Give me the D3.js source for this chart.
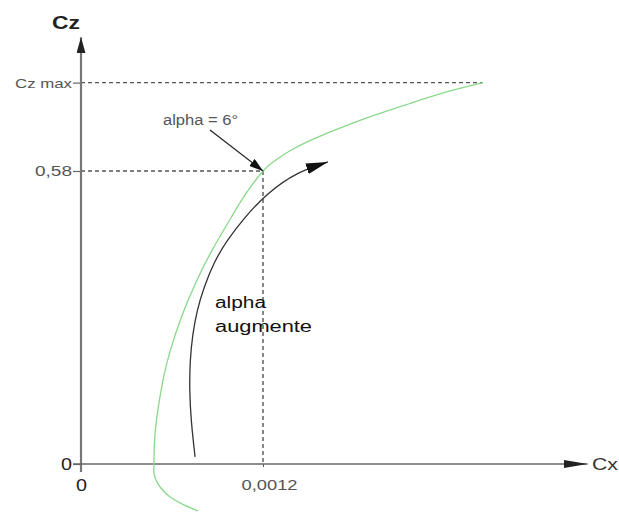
<!DOCTYPE html>
<html>
<head>
<meta charset="utf-8">
<script src="https://cdn.jsdelivr.net/npm/d3@7/dist/d3.min.js"></script>
<style>
  html, body { margin: 0; padding: 0; background: #fff; }
  svg { display: block; font-family: "Liberation Sans", Arial, sans-serif; }
</style>
</head>
<body>
<svg id="chart" width="619" height="513"></svg>
<script>
// Polar curve Cz = f(Cx)
const polarCx = [0.000771, 0.000672, 0.000590, 0.000528, 0.000492, 0.000479, 0.000481, 0.000490, 0.000540,
                 0.000588, 0.000661, 0.000755, 0.000864, 0.000992, 0.001087, 0.0012,
                 0.001276, 0.001390, 0.001546, 0.001706, 0.001931, 0.002141, 0.002393, 0.00265];
const polarCz = [-0.093, -0.080, -0.066, -0.048, -0.030, -0.014, 0, 0.066, 0.165,
                 0.224, 0.290, 0.358, 0.423, 0.489, 0.535, 0.58,
                 0.600, 0.622, 0.645, 0.665, 0.690, 0.711, 0.735, 0.755];

// Arrow showing increasing angle of attack
const arrowCx = [0.000752, 0.000725, 0.000715, 0.000719, 0.000735, 0.000765, 0.000811,
                 0.000877, 0.000963, 0.001081, 0.001226, 0.001424, 0.001628];
const arrowCz = [0.014, 0.087, 0.147, 0.206, 0.255, 0.305, 0.350,
                 0.400, 0.443, 0.489, 0.536, 0.578, 0.598];

// Reference values and tick labels
const czTicks = [0, 0.58, 0.755];
const czTickLabels = ["0", "0,58", "Cz max"];
const cxTicks = [0, 0.0012];
const cxTickLabels = ["0", "0,0012"];
const cxPoint = 0.0012, czPoint = 0.58, czMax = 0.755, cxAtCzMax = 0.00265;
const cxAxisEnd = 0.00334, czAxisEnd = 0.845;

const svg = d3.select("#chart");
const x = d3.scaleLinear().domain([0, 0.0012]).range([81, 263]);
const y = d3.scaleLinear().domain([0, 0.58]).range([464, 171]);

const defs = svg.append("defs");
function marker(id, len, wid, color) {
  defs.append("marker")
    .attr("id", id).attr("viewBox", `0 0 ${len} ${wid}`)
    .attr("refX", len).attr("refY", wid / 2)
    .attr("markerWidth", len).attr("markerHeight", wid)
    .attr("markerUnits", "userSpaceOnUse").attr("orient", "auto")
    .append("path").attr("d", `M0,0L${len},${wid / 2}L0,${wid}Z`).attr("fill", color);
}
marker("axHead", 24, 8, "#222");
marker("ayHead", 16, 9, "#222");
marker("bigHead", 22, 11, "#111");
marker("smallHead", 14, 9, "#111");

// Stretched text helper
function label(t, px, py, size, width, opts = {}) {
  return svg.append("text")
    .attr("x", px).attr("y", py)
    .attr("font-size", size)
    .attr("fill", opts.fill || "#444")
    .attr("font-weight", opts.weight || "normal")
    .attr("text-anchor", opts.anchor || "start")
    .attr("textLength", width).attr("lengthAdjust", "spacingAndGlyphs")
    .text(t);
}

// Dashed reference lines
const dash = svg.append("g").attr("stroke", "#555").attr("stroke-width", 1.4)
  .attr("stroke-dasharray", "4,3").attr("fill", "none");
dash.append("line").attr("x1", x(0)).attr("x2", x(cxAtCzMax)).attr("y1", y(czMax)).attr("y2", y(czMax));
dash.append("line").attr("x1", x(0)).attr("x2", x(cxPoint)).attr("y1", y(czPoint)).attr("y2", y(czPoint));
dash.append("line").attr("x1", x(cxPoint)).attr("x2", x(cxPoint)).attr("y1", y(czPoint)).attr("y2", y(0));

// Axes
const yAxis = d3.axisLeft(y).tickValues(czTicks).tickSize(8).tickFormat((d, i) => czTickLabels[i]);
const gy = svg.append("g").attr("transform", `translate(${x(0)},0)`).call(yAxis);
gy.select(".domain").remove();
gy.selectAll(".tick line").attr("stroke", "#666").attr("stroke-width", 1.2);
gy.selectAll(".tick text").attr("font-family", "Liberation Sans, Arial, sans-serif")
  .attr("x", -9).attr("dy", "0.35em")
  .attr("fill", (d, i) => i === 0 ? "#222" : "#555")
  .attr("font-size", (d, i) => [17, 14, 13][i])
  .attr("textLength", (d, i) => [11, 37, 57][i])
  .attr("lengthAdjust", "spacingAndGlyphs");

const xAxis = d3.axisBottom(x).tickValues(cxTicks).tickSize(3).tickFormat((d, i) => cxTickLabels[i]);
const gx = svg.append("g").attr("transform", `translate(0,${y(0)})`).call(xAxis);
gx.select(".domain").remove();
gx.selectAll(".tick line").attr("stroke", (d, i) => i === 0 ? "none" : "#555");
gx.selectAll(".tick text").attr("font-family", "Liberation Sans, Arial, sans-serif")
  .attr("y", 15).attr("dy", "0.71em")
  .attr("fill", (d, i) => i === 0 ? "#222" : "#555")
  .attr("font-size", (d, i) => [17, 15][i])
  .attr("textLength", (d, i) => [11, 56][i])
  .attr("lengthAdjust", "spacingAndGlyphs");
gx.selectAll(".tick").filter((d, i) => i === 1).select("text").attr("x", 6);

svg.append("line").attr("x1", x(0)).attr("x2", x(0)).attr("y1", y(0) + 8).attr("y2", y(czAxisEnd))
  .attr("stroke", "#777").attr("stroke-width", 2.2).attr("marker-end", "url(#ayHead)");
svg.append("line").attr("x1", x(0) - 8).attr("x2", x(cxAxisEnd)).attr("y1", y(0)).attr("y2", y(0))
  .attr("stroke", "#666").attr("stroke-width", 1.5).attr("marker-end", "url(#axHead)");

label("Cz", 66, 29, 18, 28, { anchor: "middle", fill: "#222", weight: "bold" });
label("Cx", 592, 470, 17, 26, { fill: "#333" });

// Polar curve
const pts = polarCx.map((c, i) => [x(c), y(polarCz[i])]);
svg.append("path").datum(pts)
  .attr("d", d3.line().curve(d3.curveNatural))
  .attr("fill", "none").attr("stroke", "#8ad88a").attr("stroke-width", 1.3);

// Curved arrow
const apts = arrowCx.map((c, i) => [x(c), y(arrowCz[i])]);
svg.append("path").datum(apts)
  .attr("d", d3.line().curve(d3.curveBasis))
  .attr("fill", "none").attr("stroke", "#333").attr("stroke-width", 1.3)
  .attr("marker-end", "url(#bigHead)");

// Annotation for alpha = 6°
svg.append("line").attr("x1", 210).attr("y1", 130).attr("x2", x(cxPoint)).attr("y2", y(czPoint))
  .attr("stroke", "#222").attr("stroke-width", 1.2).attr("marker-end", "url(#smallHead)");
label("alpha = 6°", 163, 125, 14, 75, { fill: "#555" });

label("alpha", 215, 308, 16, 51, { fill: "#111" });
label("augmente", 215, 332, 16, 97, { fill: "#111" });
</script>
</body>
</html>
